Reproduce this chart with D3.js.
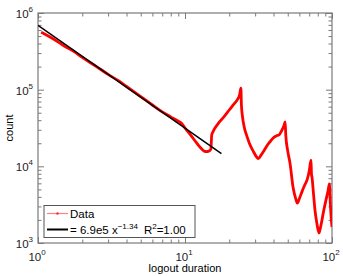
<!DOCTYPE html>
<html><head><meta charset="utf-8">
<script src="https://cdn.jsdelivr.net/npm/d3@7"></script>
<style>body{margin:0;background:#fff}text{font-family:"Liberation Sans",Arial,sans-serif}</style>
</head><body><svg id="c" width="343" height="276"></svg>
<script>
const durations = [1.05,1.1,1.2,1.35,1.5,1.75,2,2.5,3,3.5,4,5,6,7,8,9,9.5,10,11,12,13,13.5,14,14.5,15,15.2,15.5,16,17,18.5,20,21.5,22.7,23.5,24,24.2,24.6,25.3,26.3,27.4,29.1,31,31.5,33,34.6,36.5,38.6,40.4,42,43.6,45.6,47.3,48,48.5,50,51.8,54.3,57,58,60,62.5,65,67.6,70,72,72.5,73.1,75,76.6,79,81.6,83,85.5,88,91,94,96,97.5,99,100];
const counts = [562000,537000,490000,427000,372000,316000,263000,200000,158000,132000,110000,81300,63100,51300,44200,38900,36300,31600,25100,20200,16800,15800,15600,15800,16800,25700,28200,31600,37200,44700,54300,64600,74100,85100,104700,63100,44700,32400,25100,20000,15800,12900,12600,14100,16200,19100,21900,24000,25100,25700,29500,34700,38000,25100,15800,11000,5370,3630,3310,3800,4680,5620,6610,8710,12000,7940,7240,4170,2690,1780,1350,1510,2000,2690,3630,4790,5890,3160,2000,1620];
const fitA = 6.9e5, fitB = -1.34;
const fitRange = [1, 17.7];
const xTicks = [1,10,100];
const yTicks = [1e3,1e4,1e5,1e6];
const legendLabels = ["Data"];

const svg = d3.select("#c");
const L=38,R=332,T=13,B=243;
const x = d3.scaleLog().domain([1,100]).range([L,R]);
const y = d3.scaleLog().domain([1e3,1e6]).range([B,T]);
const gray="#7a7a7a";

const minorX=[], minorY=[];
for (const d of [1,10]) for (let k=2;k<=9;k++) minorX.push(d*k);
for (const d of [1e3,1e4,1e5]) for (let k=2;k<=9;k++) minorY.push(d*k);

function axis(gen, scale, vals, size, tr){
  const g = svg.append("g").attr("transform",tr).call(gen(scale).tickValues(vals).tickSize(size).tickFormat(""));
  g.selectAll("path").remove();
  g.selectAll("line").attr("stroke",gray);
}
axis(d3.axisBottom,x,xTicks,-6,`translate(0,${B})`);
axis(d3.axisBottom,x,minorX,-3.5,`translate(0,${B})`);
axis(d3.axisTop,x,xTicks,-6,`translate(0,${T})`);
axis(d3.axisTop,x,minorX,-3.5,`translate(0,${T})`);
axis(d3.axisLeft,y,yTicks,-6,`translate(${L},0)`);
axis(d3.axisLeft,y,minorY,-3.5,`translate(${L},0)`);
axis(d3.axisRight,y,yTicks,-6,`translate(${R},0)`);
axis(d3.axisRight,y,minorY,-3.5,`translate(${R},0)`);
svg.append("rect").attr("x",L).attr("y",T).attr("width",R-L).attr("height",B-T)
  .attr("fill","none").attr("stroke",gray).attr("stroke-width",1.2);

xTicks.forEach(v=>{
  const t=svg.append("text").attr("x",x(v)-1).attr("y",261).attr("text-anchor","middle").attr("font-size",11.5).attr("fill","#222");
  t.append("tspan").text("10");
  t.append("tspan").attr("dy",-6).attr("font-size",8).text(Math.round(Math.log10(v)));
});
yTicks.forEach(v=>{
  const t=svg.append("text").attr("x",33).attr("y",y(v)+5).attr("text-anchor","end").attr("font-size",11.5).attr("fill","#222");
  t.append("tspan").text("10");
  t.append("tspan").attr("dy",-6).attr("font-size",8).text(Math.round(Math.log10(v)));
});
svg.append("text").attr("x",185).attr("y",272).attr("text-anchor","middle").attr("font-size",11).text("logout duration");
svg.append("text").attr("transform","translate(13,128) rotate(-90)").attr("text-anchor","middle").attr("font-size",11).text("count");

const pts = durations.map((d,i)=>[d,counts[i]]);
svg.append("clipPath").attr("id","cp").append("rect").attr("x",L).attr("y",T).attr("width",R-L).attr("height",B-T);
const gp = svg.append("g").attr("clip-path","url(#cp)");
gp.append("path").datum(pts).attr("d",d3.line().curve(d3.curveMonotoneX).x(d=>x(d[0])).y(d=>y(d[1])))
  .attr("fill","none").attr("stroke","#ff0000").attr("stroke-width",2.8).attr("stroke-linejoin","round");
const fitPts = fitRange.map(v=>[v, fitA*Math.pow(v,fitB)]);
gp.append("path").datum(fitPts).attr("d",d3.line().x(d=>x(d[0])).y(d=>y(d[1])))
  .attr("fill","none").attr("stroke","#000").attr("stroke-width",1.5);

svg.append("rect").attr("x",44).attr("y",205.5).attr("width",151).attr("height",32)
  .attr("fill","#fff").attr("stroke","#555").attr("stroke-width",1);
svg.append("line").attr("x1",47).attr("x2",68).attr("y1",213.5).attr("y2",213.5).attr("stroke","#ff8080").attr("stroke-width",1.2);
svg.append("circle").attr("cx",57.5).attr("cy",213.5).attr("r",1.3).attr("fill","#ff3030");
svg.append("text").attr("x",70).attr("y",217.5).attr("font-size",11.5).text(legendLabels[0]);
svg.append("line").attr("x1",47).attr("x2",68).attr("y1",229.5).attr("y2",229.5).attr("stroke","#000").attr("stroke-width",2);
const ft = svg.append("text").attr("x",70).attr("y",234).attr("font-size",11.5);
ft.append("tspan").text("= 6.9e5 x");
ft.append("tspan").attr("dy",-5).attr("font-size",8).text("\u22121.34");
ft.append("tspan").attr("dy",5).attr("dx",6).text("R");
ft.append("tspan").attr("dy",-5).attr("font-size",8).text("2");
ft.append("tspan").attr("dy",5).text("=1.00");
</script></body></html>
